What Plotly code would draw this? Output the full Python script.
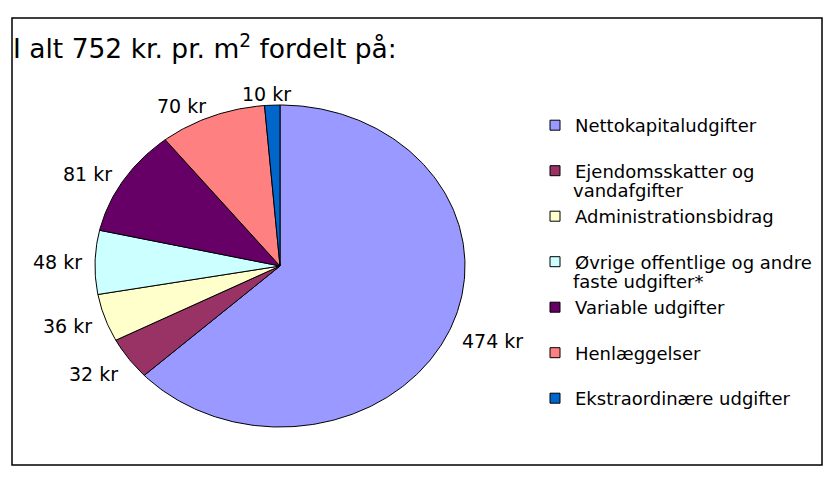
import numpy as np
import plotly.graph_objects as go

# ---- data ----
categories = [
    "Nettokapitaludgifter",
    "Ejendomsskatter og",
    "Administrationsbidrag",
    "Øvrige offentlige og andre",
    "Variable udgifter",
    "Henlæggelser",
    "Ekstraordinære udgifter",
]
category_second_lines = ["", "vandafgifter", "", "faste udgifter*", "", "", ""]
values = [474, 32, 36, 48, 81, 70, 10]
value_labels = [f"{v} kr" for v in values]
subtitle = "I alt 752 kr. pr. m<sup>2</sup> fordelt på:"

# ---- styles / layout ----
colors = ["#9999FF", "#993366", "#FFFFCC", "#CCFFFF", "#660066", "#FF8080", "#0066CC"]
FONT = "DejaVu Sans"
W, H = 834, 481
CX, CY, RX, RY = 280, 266, 185, 161   # ellipse centre / radii in px
LABEL_OFFSET = 11                      # px outside the ellipse
LEG_X, LEG_TOP, LEG_STEP = 535, 107, 45.5
LEG_FIRST = 125                        # px of first legend row centre
SECOND_LINE_GAP = 19.5

x_range = [-CX / RX, (W - CX) / RX]
y_range = [-(H - CY) / RY, CY / RY]

fig = go.Figure()
total = sum(values)
cum = 0.0
annotations = []
for i, (name, name2, v, col, lab) in enumerate(
        zip(categories, category_second_lines, values, colors, value_labels)):
    a0 = cum / total * 2 * np.pi
    a1 = (cum + v) / total * 2 * np.pi
    n = max(3, int(400 * v / total) + 3)
    t = np.linspace(a0, a1, n)
    xs = np.concatenate([[0], np.sin(t), [0]])
    ys = np.concatenate([[0], np.cos(t), [0]])
    full_name = (name + " " + name2).strip()
    fig.add_trace(go.Scatter(
        x=xs, y=ys, mode="lines", fill="toself", fillcolor=col,
        line=dict(color="black", width=1), showlegend=False,
        hoverinfo="text", text=f"{full_name}: {lab}",
    ))
    mid = (a0 + a1) / 2
    s, c = np.sin(mid), np.cos(mid)
    ax = s * (RX + LABEL_OFFSET) / RX
    ay = c * (RY + LABEL_OFFSET) / RY - 15 * max(0.0, -c) / RY
    xanchor = "center" if abs(s) < 0.15 else ("left" if s > 0 else "right")
    annotations.append(dict(
        x=ax, y=ay, xref="x", yref="y", text=lab, showarrow=False,
        xanchor=xanchor, yanchor="middle",
        xshift=-5 if xanchor == "center" else 0,
        font=dict(family=FONT, size=19, color="black"),
    ))
    cum += v

# legend entries (square swatches), one group per entry
for i, (name, name2, col) in enumerate(zip(categories, category_second_lines, colors)):
    fig.add_trace(go.Scatter(
        x=[None], y=[None], mode="markers", name=name,
        marker=dict(symbol="square", size=10, color=col,
                    line=dict(color="black", width=1)),
        legendgroup=f"g{i}", showlegend=True,
    ))
    if name2:
        yc = LEG_FIRST + i * LEG_STEP + SECOND_LINE_GAP
        annotations.append(dict(
            x=(LEG_X + 37) / W, y=1 - yc / H, xref="paper", yref="paper",
            text=name2, showarrow=False, xanchor="left", yanchor="middle",
            borderpad=0, font=dict(family=FONT, size=18, color="black"),
        ))

annotations.append(dict(
    x=11 / W, y=1 - 47 / H, xref="paper", yref="paper", text=subtitle,
    showarrow=False, xanchor="left", yanchor="middle",
    font=dict(family=FONT, size=26.5, color="black"),
))

fig.update_layout(
    width=W, height=H,
    margin=dict(l=0, r=0, t=0, b=0),
    paper_bgcolor="white", plot_bgcolor="white",
    xaxis=dict(range=x_range, visible=False, fixedrange=True),
    yaxis=dict(range=y_range, visible=False, fixedrange=True),
    annotations=annotations,
    legend=dict(
        xanchor="left", yanchor="top", x=LEG_X / W, y=1 - LEG_TOP / H,
        bgcolor="rgba(0,0,0,0)", borderwidth=0, tracegroupgap=LEG_STEP - 26.4,
        font=dict(family=FONT, size=18, color="black"), valign="middle",
    ),
    shapes=[dict(type="rect", xref="paper", yref="paper",
                 x0=12 / W, x1=822 / W, y0=1 - 465 / H, y1=1 - 18 / H,
                 line=dict(color="black", width=1.5), fillcolor="rgba(0,0,0,0)")],
    showlegend=True,
)

fig.write_html("out.html", config={"displayModeBar": False},
               post_script="document.body.style.margin='0';")
